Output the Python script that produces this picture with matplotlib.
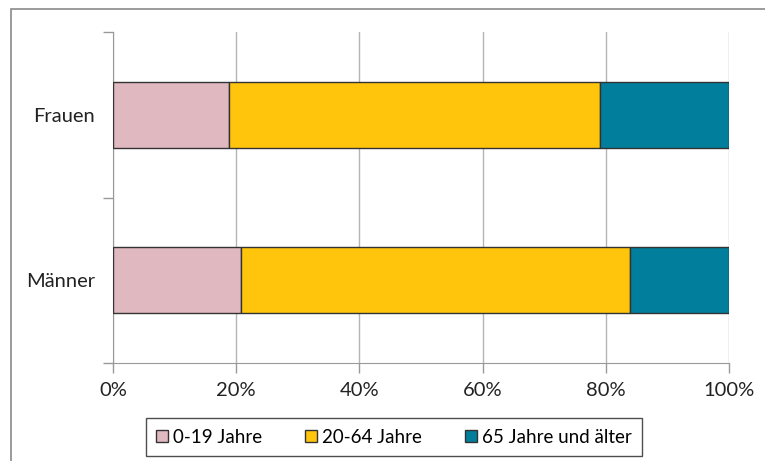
import matplotlib
matplotlib.use("Agg")
import matplotlib.pyplot as plt
from matplotlib.patches import Rectangle

# data (percent of each group)
groups = ["Männer", "Frauen"]
age_labels = ["0-19 Jahre", "20-64 Jahre", "65 Jahre und älter"]
share_0_19 = [20.7, 18.9]
share_20_64 = [63.3, 60.2]
share_65 = [16.0, 20.9]
colors = ["#E0B8BF", "#FFC50D", "#007E9C"]

plt.rcParams['font.family'] = ['Lato', 'DejaVu Sans']

fig = plt.figure(figsize=(7.65, 4.61), dpi=100)
W, H = 765, 461
ax = fig.add_axes([113 / W, 1 - 363 / H, (729 - 113) / W, (363 - 32) / H])

# outer frame of the chart area
fig.patches.append(Rectangle((11 / W, -0.1), 1.2, 1 - 9 / H + 0.1,
                             transform=fig.transFigure, fill=False,
                             edgecolor="#8a8a8a", linewidth=1.2))

series = [share_0_19, share_20_64, share_65]
left = [0, 0]
ypos = range(len(groups))
bars = []
for vals, col, lab in zip(series, colors, age_labels):
    b = ax.barh(ypos, vals, left=left, height=0.4, color=col,
                edgecolor="#333333", linewidth=1.0, label=lab, zorder=3)
    bars.append(b)
    left = [l + v for l, v in zip(left, vals)]

ax.set_xlim(0, 100)
ax.set_ylim(-0.5, 1.5)
ax.set_xticks([0, 20, 40, 60, 80, 100])
ax.set_xticklabels(["0%", "20%", "40%", "60%", "80%", "100%"], fontsize=14.5, color="#222222")
ax.set_yticks([-0.5, 0.5, 1.5])
ax.set_yticklabels([])
ax.set_yticks([0, 1], minor=True)
ax.set_yticklabels(groups, minor=True, fontsize=14.5, color="#222222")
ax.tick_params(axis="y", which="minor", length=0, pad=13)
ax.tick_params(axis="y", which="major", length=7, color="#999999", width=1)
ax.tick_params(axis="x", length=7, color="#999999", width=1, pad=7)

ax.grid(axis="x", color="#b5b5b5", linewidth=1, zorder=0)
for s in ["top", "right"]:
    ax.spines[s].set_visible(False)
ax.spines["left"].set_color("#999999")
ax.spines["bottom"].set_color("#999999")

leg = fig.legend(handles=bars, labels=age_labels, loc="center",
                 bbox_to_anchor=(394 / W, 1 - 437 / H), ncol=3,
                 fontsize=13.5, frameon=True, fancybox=False,
                 handlelength=0.65, handleheight=0.65, handletextpad=0.25,
                 columnspacing=2.3, borderpad=0.55, borderaxespad=0)
leg.get_frame().set_edgecolor("#222222")
leg.get_frame().set_linewidth(1.0)

fig.savefig("out.png", dpi=100)
